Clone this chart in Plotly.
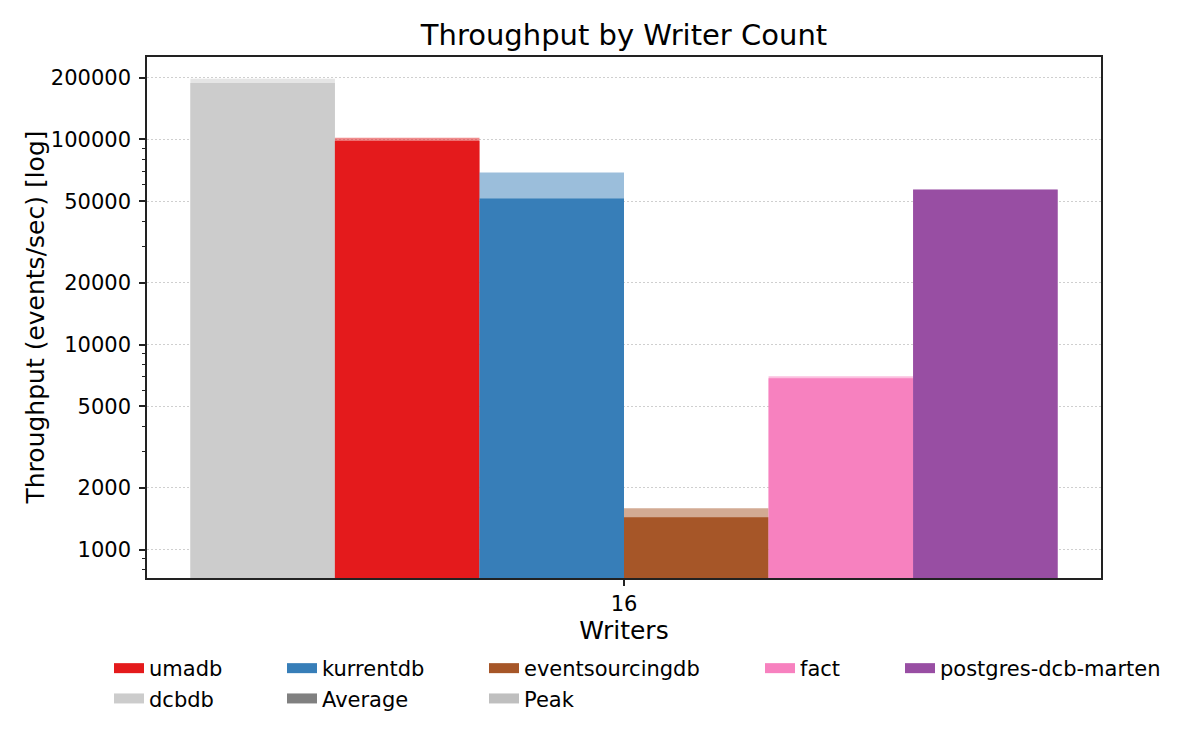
import math
import plotly.graph_objects as go

# ---- data ----
series = ["dcbdb", "umadb", "kurrentdb", "eventsourcingdb", "fact", "postgres-dcb-marten"]
avg_values = [188500, 98500, 51500, 1440, 6850, 56800]
peak_values = [197800, 101900, 69000, 1590, 7000, 57200]
colors = ["#cccccc", "#e41a1c", "#377eb8", "#a65628", "#f781bf", "#984ea3"]
category = "16"
y_tickvals = [1000, 2000, 5000, 10000, 20000, 50000, 100000, 200000]
y_minor = [800, 900, 3000, 4000, 6000, 7000, 8000, 9000,
           30000, 40000, 60000, 70000, 80000, 90000]

legend_cols = [
    [("umadb", "#e41a1c"), ("dcbdb", "#cccccc")],
    [("kurrentdb", "#377eb8"), ("Average", "#808080")],
    [("eventsourcingdb", "#a65628"), ("Peak", "#bfbfbf")],
    [("fact", "#f781bf")],
    [("postgres-dcb-marten", "#984ea3")],
]
legend_text_x = [150, 323, 525, 801, 941]

FONT = "DejaVu Sans"
OFF = 8  # page body margin
L, R, T, B = 147 - OFF, 1200 - 1101 + OFF, 57 - OFF, 750 - 578 + OFF
PW = 1200 - L - R

fig = go.Figure()

for name, avg, peak, col in zip(series, avg_values, peak_values, colors):
    fig.add_trace(go.Bar(x=[category], y=[peak], marker=dict(color=col, line=dict(width=0)),
                         opacity=0.5, offsetgroup=name, showlegend=False, hoverinfo="skip"))
    fig.add_trace(go.Bar(x=[category], y=[avg], marker=dict(color=col, line=dict(width=0)),
                         offsetgroup=name, showlegend=False, name=name))

legend_layouts = {}
for i, (col_items, tx) in enumerate(zip(legend_cols, legend_text_x)):
    lname = "legend" if i == 0 else f"legend{i+1}"
    for label, c in col_items:
        fig.add_trace(go.Scatter(x=[0], y=[0], mode="lines", name=label, legendgroup=label,
                                 line=dict(color=c, width=10), legend=lname,
                                 xaxis="x2", yaxis="y2", hoverinfo="skip"))
    legend_layouts[lname] = dict(
        xref="container", yref="container",
        x=(tx - 49) / 1200, y=1 - 640 / 750,
        xanchor="left", yanchor="top", orientation="v",
        font=dict(family=FONT, size=21, color="black"),
        bgcolor="rgba(0,0,0,0)", borderwidth=0, tracegroupgap=0,
    )

fig.update_layout(
    width=1200, height=750,
    margin=dict(l=L, r=R, t=T, b=B, autoexpand=False),
    paper_bgcolor="white", plot_bgcolor="white",
    barmode="group", bargap=0.2, bargroupgap=0,
    font=dict(family=FONT, size=20, color="black"),
    title=dict(text="Throughput by Writer Count", x=((147 + 1101) / 2 - OFF) / 1200, xanchor="center",
               xref="container", yref="container",
               y=1 - (35 - OFF) / 750, yanchor="middle", font=dict(family=FONT, size=29, color="black")),
    xaxis2=dict(overlaying="x", visible=False, range=[10, 11]),
    yaxis2=dict(overlaying="y", visible=False, range=[10, 11]),
    annotations=[dict(text="Throughput (events/sec) [log]", textangle=-90,
                      xref="paper", yref="paper", x=(35 - OFF - L) / PW, y=0.5,
                      xanchor="center", yanchor="middle", showarrow=False,
                      font=dict(family=FONT, size=25, color="black"))],
    **legend_layouts,
)

fig.layout.xaxis.update(
    type="category", range=[-0.44, 0.44],
    showline=True, mirror=True, linecolor="#222222", linewidth=1.6,
    ticks="outside", ticklen=6, tickwidth=1.5, tickcolor="#222222",
    tickfont=dict(family=FONT, size=21, color="black"),
    showgrid=False, zeroline=False, automargin=False,
    title=dict(text="Writers", font=dict(family=FONT, size=25, color="black"), standoff=6),
)
fig.layout.yaxis.update(
    type="log", range=[math.log10(727), math.log10(252400)],
    tickvals=y_tickvals, ticktext=[str(v) for v in y_tickvals],
    showline=True, mirror=True, linecolor="#222222", linewidth=1.6,
    ticks="outside", ticklen=6, tickwidth=1.5, tickcolor="#222222",
    tickfont=dict(family=FONT, size=21, color="black"), ticklabelstandoff=4,
    showgrid=True, gridcolor="#cfcfcf", griddash="2px,2px", gridwidth=1.3,
    minor=dict(tickvals=y_minor, ticks="outside", ticklen=3, tickwidth=1.2,
               tickcolor="#222222", showgrid=False),
    zeroline=False, automargin=False,
)

fig.write_html("out.html")
